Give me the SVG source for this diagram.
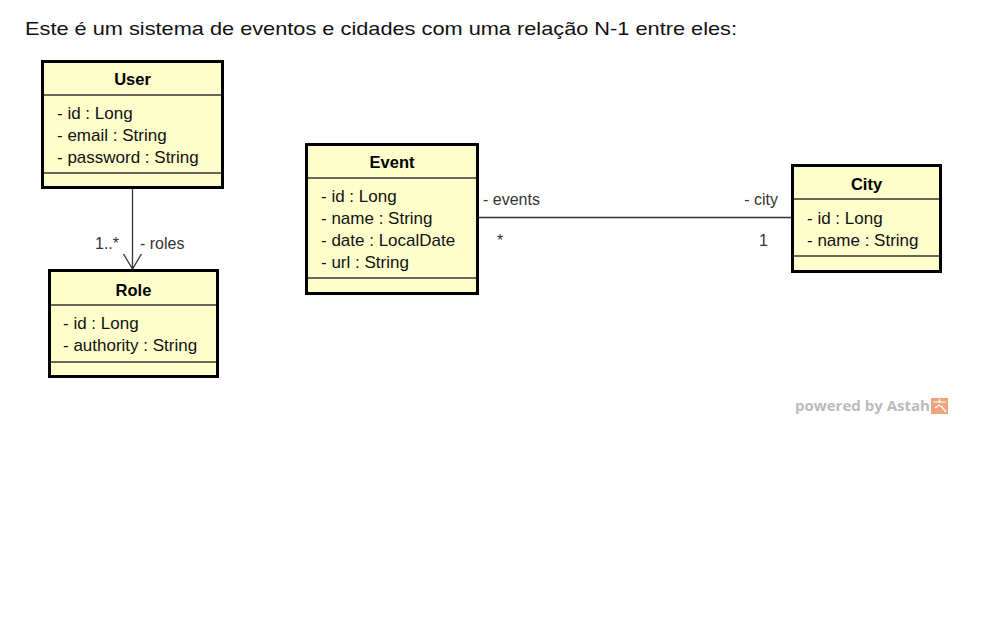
<svg xmlns="http://www.w3.org/2000/svg" width="981" height="619" viewBox="0 0 981 619">
<style>
.box{fill:#ffffcc;stroke:#000;stroke-width:3}
.div{stroke:#333;stroke-width:1.3;fill:none}
.t{font-family:"Liberation Sans",Arial,sans-serif;font-size:17px;fill:#111}
.h{font-family:"Liberation Sans",Arial,sans-serif;font-size:16.5px;font-weight:bold;fill:#000;text-anchor:middle}
.lbl{font-family:"Liberation Sans",Arial,sans-serif;font-size:16px;fill:#333}
.edge{stroke:#333;stroke-width:1.3;fill:none}
</style>
<rect width="981" height="619" fill="#fff"/>
<text x="25" y="35" font-family="'Liberation Sans',Arial,sans-serif" font-size="19" fill="#111" textLength="712" lengthAdjust="spacingAndGlyphs">Este é um sistema de eventos e cidades com uma relação N-1 entre eles:</text>

<g id="connectors">
  <line class="edge" x1="132.5" y1="189" x2="132.5" y2="269"/>
  <polyline class="edge" points="123.5,254 132.5,269 141.5,254"/>
  <text class="lbl" x="119" y="249" text-anchor="end">1..*</text>
  <text class="lbl" x="140" y="249">- roles</text>
  <line class="edge" x1="478" y1="217.5" x2="792" y2="217.5"/>
  <text class="lbl" x="483" y="205">- events</text>
  <text class="lbl" x="497" y="246">*</text>
  <text class="lbl" x="778" y="205" text-anchor="end">- city</text>
  <text class="lbl" x="768" y="246" text-anchor="end">1</text>
</g>

<g id="User">
  <rect class="box" x="42.5" y="61.5" width="180" height="126"/>
  <line class="div" x1="44" y1="95" x2="221" y2="95"/>
  <line class="div" x1="44" y1="173" x2="221" y2="173"/>
  <text class="h" x="132.5" y="85">User</text>
  <text class="t" x="57" y="119">- id : Long</text>
  <text class="t" x="57" y="141">- email : String</text>
  <text class="t" x="57" y="163">- password : String</text>
</g>

<g id="Role">
  <rect class="box" x="49.5" y="270.5" width="168" height="106"/>
  <line class="div" x1="51" y1="305" x2="216" y2="305"/>
  <line class="div" x1="51" y1="362" x2="216" y2="362"/>
  <text class="h" x="133.5" y="296">Role</text>
  <text class="t" x="63" y="329">- id : Long</text>
  <text class="t" x="63" y="351">- authority : String</text>
</g>

<g id="Event">
  <rect class="box" x="306.5" y="144.5" width="171" height="149"/>
  <line class="div" x1="308" y1="178" x2="476" y2="178"/>
  <line class="div" x1="308" y1="278" x2="476" y2="278"/>
  <text class="h" x="392" y="168">Event</text>
  <text class="t" x="321" y="202">- id : Long</text>
  <text class="t" x="321" y="224">- name : String</text>
  <text class="t" x="321" y="246">- date : LocalDate</text>
  <text class="t" x="321" y="268">- url : String</text>
</g>

<g id="City">
  <rect class="box" x="792.5" y="165.5" width="148" height="106"/>
  <line class="div" x1="794" y1="199" x2="939" y2="199"/>
  <line class="div" x1="794" y1="256" x2="939" y2="256"/>
  <text class="h" x="866.5" y="190">City</text>
  <text class="t" x="807" y="224">- id : Long</text>
  <text class="t" x="807" y="246">- name : String</text>
</g>

<g id="watermark">
  <text x="795" y="411" font-family="'Open Sans','Liberation Sans',sans-serif" font-size="14" font-weight="bold" fill="#bbbbbb" textLength="135" lengthAdjust="spacingAndGlyphs">powered by Astah</text>
  <rect x="931" y="398" width="17" height="16" fill="#f2a27a"/>
  <path d="M933 402 h13 M939.5 399 v4 M935 408 l4 -3 l4 3 M941 406 l5 6" stroke="#fff" stroke-width="1.2" fill="none"/>
</g>
</svg>
